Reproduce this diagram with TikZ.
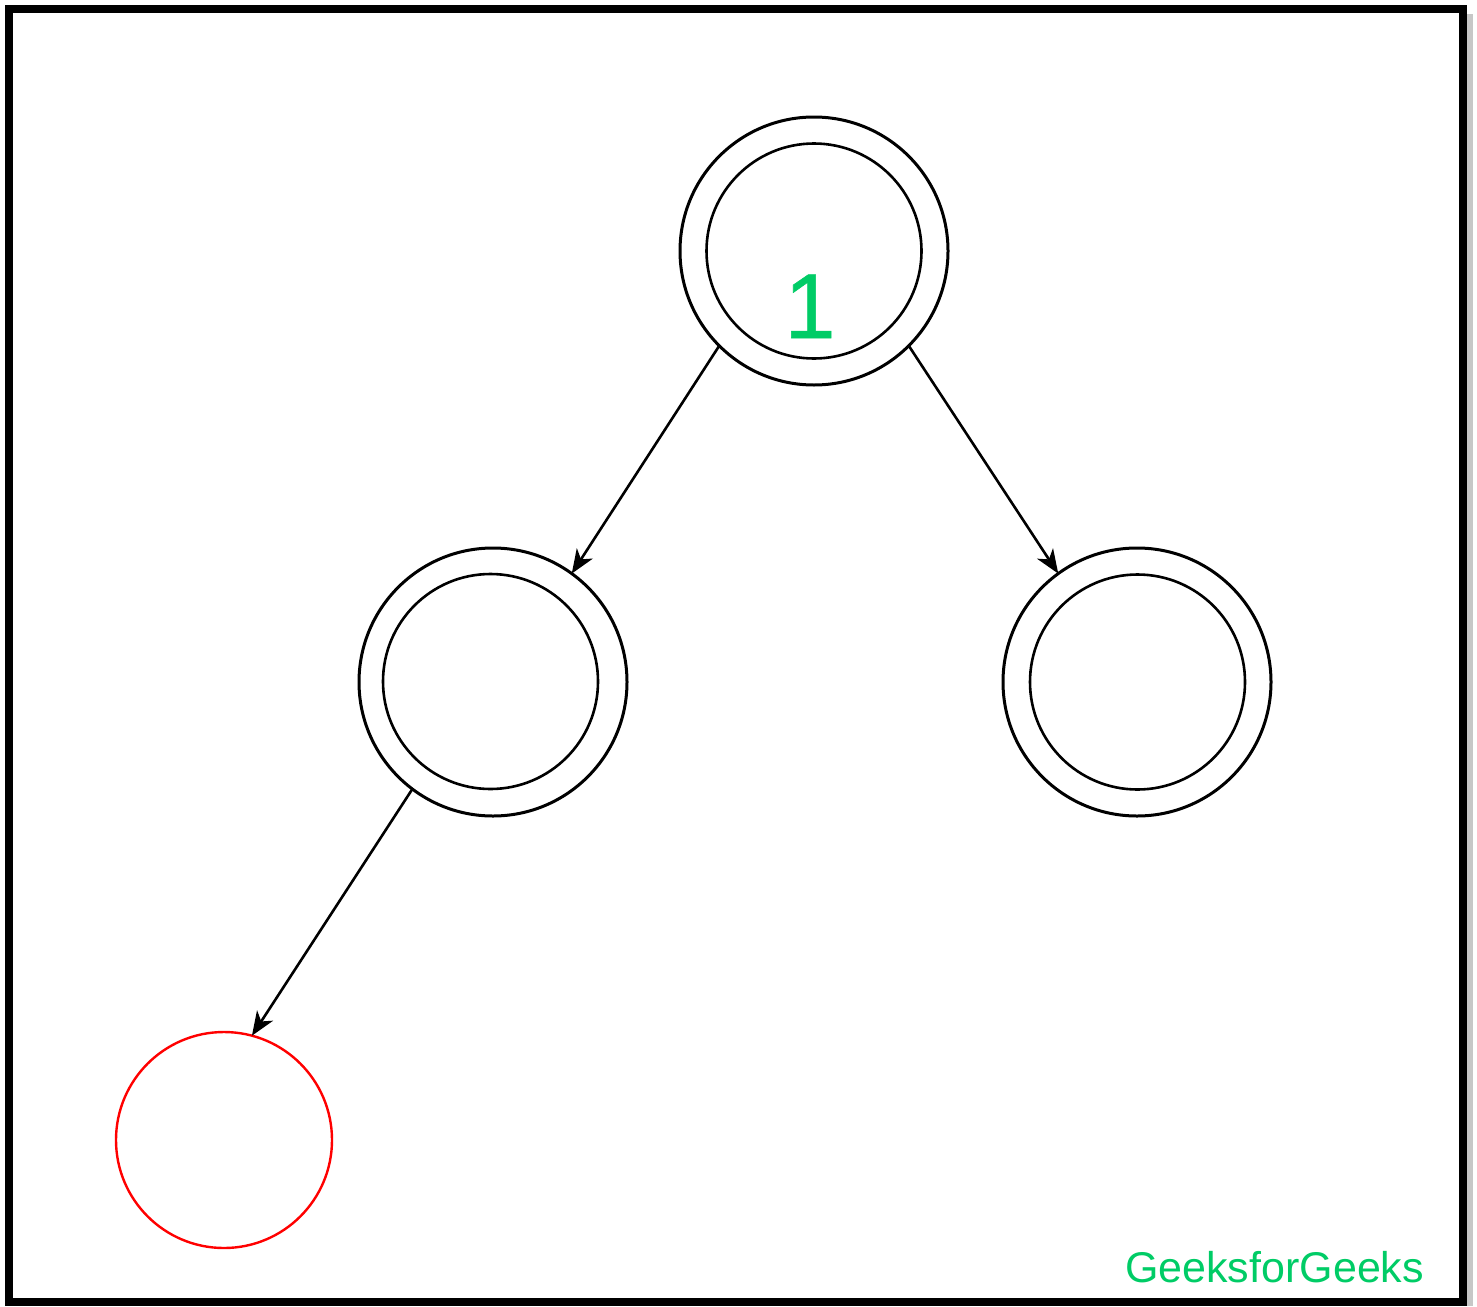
\documentclass[tikz,border=0pt]{standalone}
\usepackage{fontspec}
\setmainfont{Liberation Sans}
\newfontfamily\heavyfont[FakeBold=0.6]{Liberation Sans}
\usetikzlibrary{arrows.meta}
\definecolor{gfggreen}{RGB}{0,204,102}
\definecolor{nodered}{RGB}{255,0,0}
\begin{document}
\begin{tikzpicture}[x=1pt,y=-1pt,
  outerc/.style={circle,draw=black,line width=3pt,minimum size=268pt,inner sep=0pt,outer sep=0pt},
  innerc/.style={circle,draw=black,line width=2.6pt,minimum size=215pt,inner sep=0pt,outer sep=0pt},
  newc/.style={circle,draw=nodered,line width=2.4pt,minimum size=216pt,inner sep=0pt,outer sep=0pt},
  edge/.style={line width=2.6pt,-{Stealth[length=24pt,width=19pt,inset=7pt]}},
  gtext/.style={text=gfggreen,inner sep=0pt,anchor=base}
]
\useasboundingbox (0,0) rectangle (1477,1306);
\fill[white] (0,0) rectangle (1477,1306);
% shadow
\fill[black!22] (1467,14) rectangle (1473,1306);
\fill[black!22] (14,1306) rectangle (1473,1300);
\draw[line width=8pt] (9,9) rectangle (1463,1302);

\node[outerc] (root) at (814,251) {};
\node[innerc] (rooti) at (814,251) {};
\node[outerc] (left) at (493,682) {};
\node[innerc] (lefti) at (490.5,681.5) {};
\node[outerc] (right) at (1137,682) {};
\node[innerc] (righti) at (1137.5,682) {};
\node[newc] (red) at (224,1140) {};

\node[gtext,font=\heavyfont\fontsize{92}{92}\selectfont] (one) at (810,338) {1};
\node[gtext,anchor=base west,font=\fontsize{43}{43}\selectfont] (gfg) at (1125,1282) {GeeksforGeeks};

\draw[edge] (root.225.3) -- (left.54.1);
\draw[edge] (root.315) -- (right.126.6);
\draw[edge] (left.233.1) -- (red.75.6);
\end{tikzpicture}
\end{document}
